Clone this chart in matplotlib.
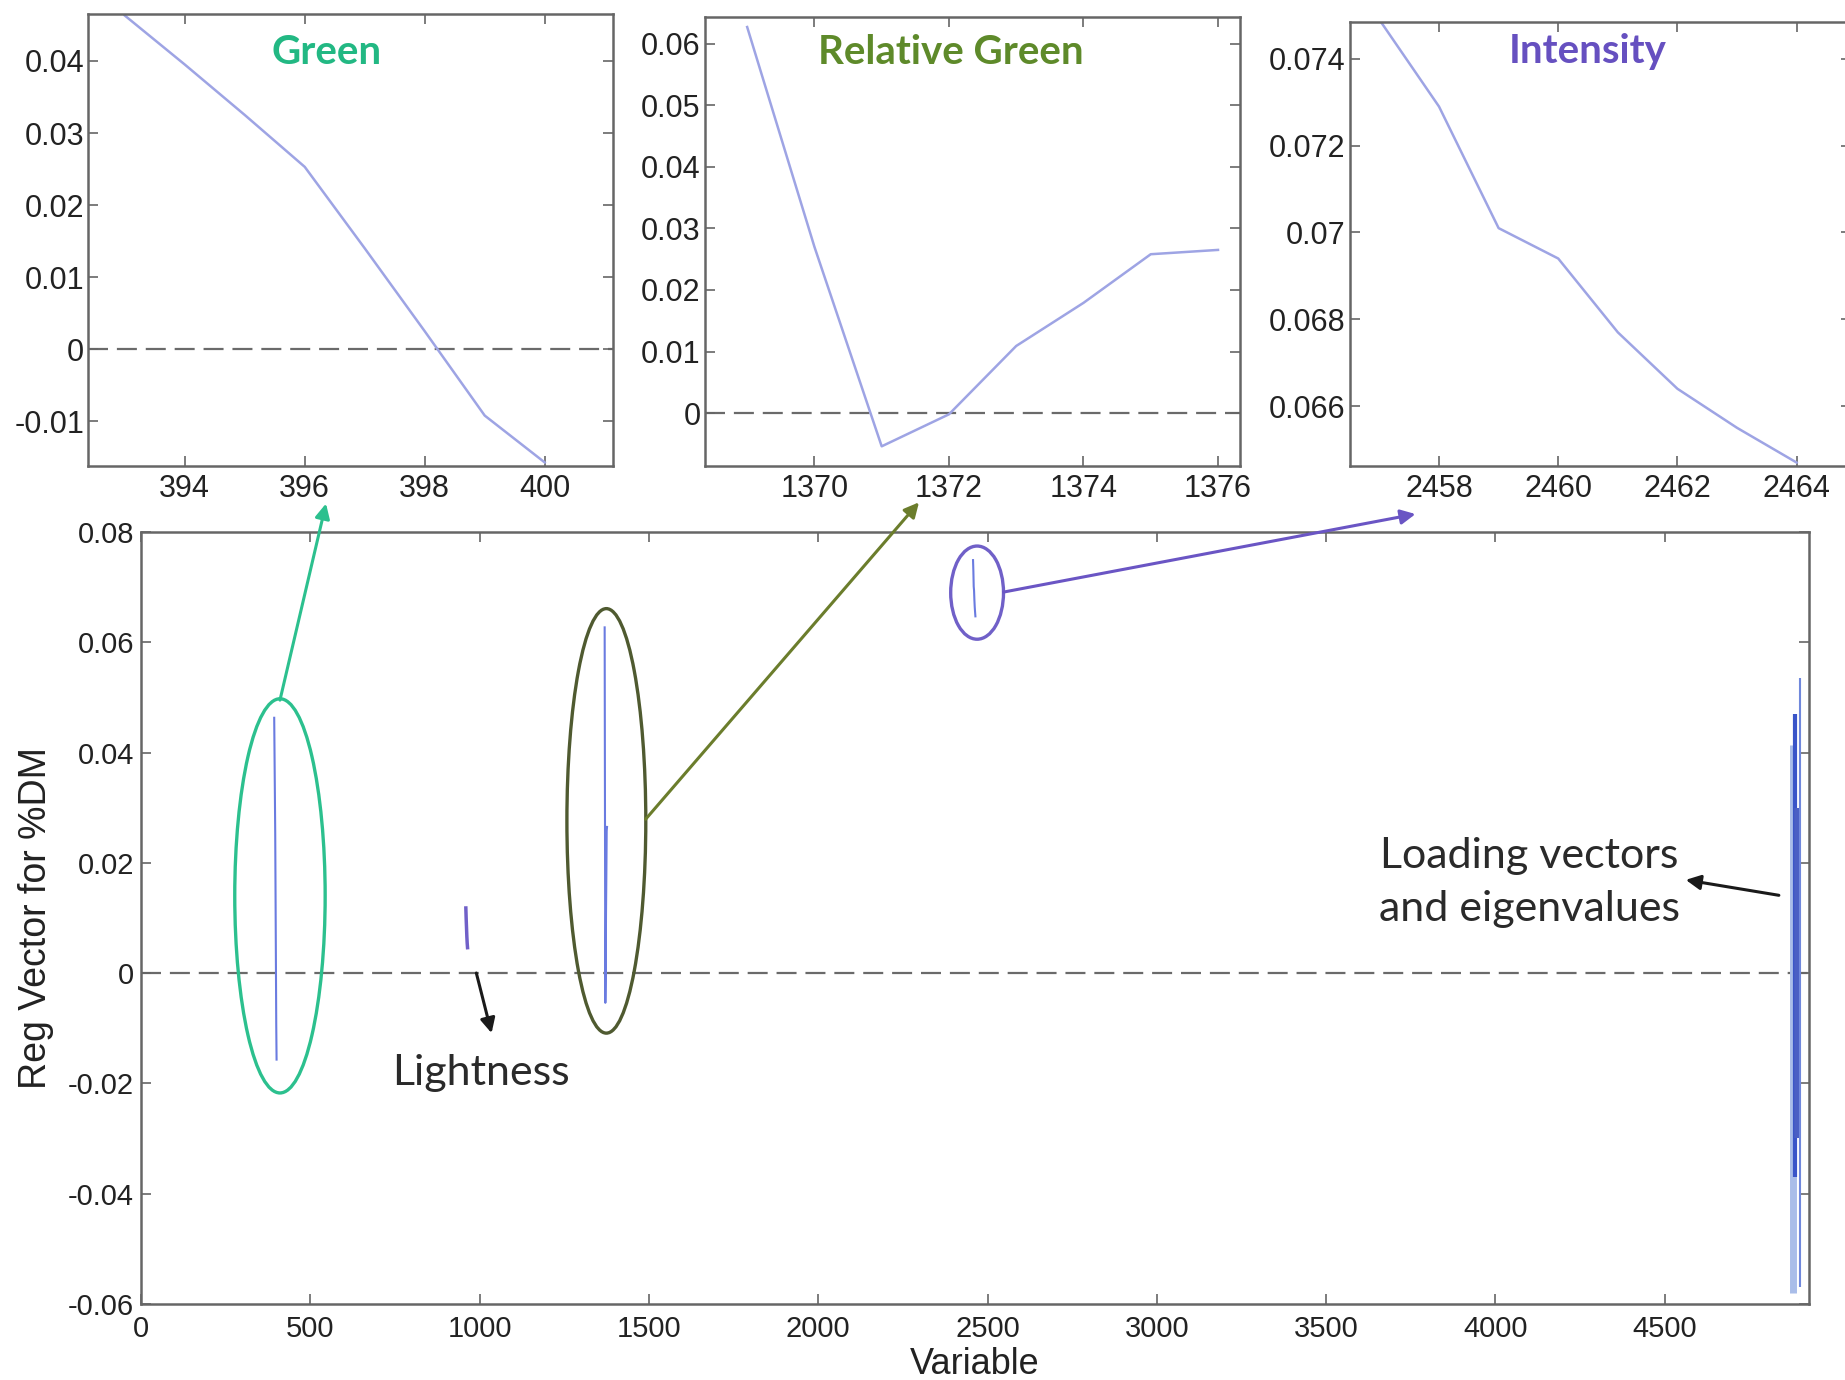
import matplotlib
matplotlib.use("Agg")
import matplotlib.pyplot as plt
from matplotlib.patches import Ellipse
from matplotlib.ticker import FormatStrFormatter, FuncFormatter

# regression vector segments picked out for each colour feature
green_x = [393, 394, 395, 396, 397, 398, 399, 400]
green_y = [0.0463, 0.0395, 0.0325, 0.0253, 0.0140, 0.0025, -0.0092, -0.0157]

relgreen_x = [1369, 1370, 1371, 1372, 1373, 1374, 1375, 1376]
relgreen_y = [0.0627, 0.0270, -0.0054, -0.0002, 0.0109, 0.0179, 0.0258, 0.0265]

intensity_x = [2457, 2458, 2459, 2460, 2461, 2462, 2463, 2464]
intensity_y = [0.0749, 0.0729, 0.0701, 0.0694, 0.0677, 0.0664, 0.0655, 0.0647]

lightness_x = [959, 960, 961, 962, 963, 964]
lightness_y = [0.0118, 0.0098, 0.0082, 0.0066, 0.0054, 0.0046]

# loading vectors / eigenvalues at the end of the variable list
loading_x = [4880, 4886, 4891, 4899]
loading_top = [0.0414, 0.0470, 0.0300, 0.0535]
loading_bottom = [-0.0580, -0.0370, -0.0300, -0.0570]
loading_colors = ['#a9bde9', '#3a55c8', '#4a5fc4', '#7088dc']
loading_widths = [5, 3, 4, 1.5]

main_xticks = [0, 500, 1000, 1500, 2000, 2500, 3000, 3500, 4000, 4500]
main_yticks = [-0.06, -0.04, -0.02, 0, 0.02, 0.04, 0.06, 0.08]

GREEN = '#22b883'
OLIVE = '#5e8a2a'
OLIVE_DARK = '#4f5a30'
PURPLE = '#6650c0'
LINE = '#9ea4e4'
SPINE = '#666666'

plt.rcParams['font.family'] = ['Liberation Sans', 'DejaVu Sans']
note_font = ['Lato', 'DejaVu Sans']


def g_fmt(v, pos):
    if abs(v) < 1e-12:
        return '0'
    return '%g' % v


def style_axes(ax, size=20, pad=4):
    for s in ax.spines.values():
        s.set_color(SPINE)
        s.set_linewidth(1.8)
    ax.tick_params(direction='in', top=True, right=True, length=7,
                   width=1.2, color=SPINE, labelsize=size, pad=pad,
                   labelcolor='#222222')
    ax.yaxis.set_major_formatter(FuncFormatter(g_fmt))


def zero_line(ax, x0, x1):
    ax.plot([x0, x1], [0, 0], color='#6a6a6a', lw=1.6,
            dashes=(9, 4), zorder=1)


fig = plt.figure(figsize=(18.45, 13.8), dpi=100)

# ---- main plot ----
ax = fig.add_axes([0.0765, 0.0552, 0.9038, 0.5593])
zero_line(ax, 0, 4925)
ax.plot(green_x, green_y, color='#6a7be0', lw=1.5)
ax.plot(relgreen_x, relgreen_y, color='#6a7be0', lw=1.5)
ax.plot(intensity_x, intensity_y, color='#6a7be0', lw=1.5)
ax.plot(lightness_x, lightness_y, color='#7060c8', lw=2.5)
for x, lo, hi, c, w in zip(loading_x, loading_bottom, loading_top,
                           loading_colors, loading_widths):
    ax.vlines(x, lo, hi, color=c, lw=w)

ax.set_xlim(0, 4925)
ax.set_ylim(-0.06, 0.08)
ax.set_xticks(main_xticks)
ax.set_yticks(main_yticks)
style_axes(ax, 21, pad=5)
ax.tick_params(axis='x', pad=8)
ax.xaxis.set_major_formatter(FormatStrFormatter('%d'))
ax.set_xlabel('Variable', fontsize=26, labelpad=3, color='#222222')
ax.set_ylabel('Reg Vector for %DM', fontsize=27, labelpad=10,
              color='#222222')

ax.add_patch(Ellipse((410, 0.0140), 267, 0.0715, fill=False,
                     ec='#2cc08e', lw=2.4))
ax.add_patch(Ellipse((1374, 0.0276), 233, 0.0770, fill=False,
                     ec=OLIVE_DARK, lw=2.4))
ax.add_patch(Ellipse((2469, 0.0690), 156, 0.0169, fill=False,
                     ec='#7060c8', lw=2.4))

arrow = dict(arrowstyle='-|>', mutation_scale=22, lw=2.2,
             shrinkA=0, shrinkB=0)
ax.annotate('', xy=(0.1767, 0.6351), xycoords='figure fraction',
            xytext=(410, 0.0495), textcoords='data',
            arrowprops=dict(arrow, color='#2cc08e'), annotation_clip=False)
ax.annotate('', xy=(0.4981, 0.6360), xycoords='figure fraction',
            xytext=(1490, 0.0279), textcoords='data',
            arrowprops=dict(arrow, color='#6b7d2c'), annotation_clip=False)
ax.annotate('', xy=(0.7672, 0.6275), xycoords='figure fraction',
            xytext=(2547, 0.0691), textcoords='data',
            arrowprops=dict(arrow, color='#6a55c4'), annotation_clip=False)
ax.annotate('', xy=(1035, -0.0109), xytext=(990, 0.0),
            arrowprops=dict(arrow, color='#1a1a1a'))
ax.annotate('', xy=(4562, 0.0169), xytext=(4837, 0.0141),
            arrowprops=dict(arrow, color='#1a1a1a'))

ax.text(1004, -0.0181, 'Lightness', fontsize=31, family=note_font,
        ha='center', va='center', color='#2a2a2a')
ax.text(4100, 0.0164, 'Loading vectors\nand eigenvalues', fontsize=31,
        family=note_font, ha='center', va='center', color='#2a2a2a',
        linespacing=1.5)

# ---- zoomed insets ----
ins1 = fig.add_axes([0.0478, 0.6623, 0.2845, 0.3275])
zero_line(ins1, 392.39, 401.14)
ins1.plot(green_x, green_y, color=LINE, lw=1.8)
ins1.set_xlim(392.39, 401.14)
ins1.set_ylim(-0.0162, 0.0465)
ins1.set_xticks([394, 396, 398, 400])
ins1.set_yticks([-0.01, 0, 0.01, 0.02, 0.03, 0.04])
style_axes(ins1, 22, pad=3)
ins1.tick_params(axis='x', pad=6)
ins1.text(0.455, 0.915, 'Green', transform=ins1.transAxes, fontsize=29,
          family=note_font, weight='bold', color=GREEN,
          ha='center', va='center')

ins2 = fig.add_axes([0.3820, 0.6623, 0.2902, 0.3257])
zero_line(ins2, 1368.37, 1376.33)
ins2.plot(relgreen_x, relgreen_y, color=LINE, lw=1.8)
ins2.set_xlim(1368.37, 1376.33)
ins2.set_ylim(-0.0086, 0.0644)
ins2.set_xticks([1370, 1372, 1374, 1376])
ins2.set_yticks([0, 0.01, 0.02, 0.03, 0.04, 0.05, 0.06])
style_axes(ins2, 22, pad=3)
ins2.tick_params(axis='x', pad=6)
ins2.text(0.46, 0.92, 'Relative Green', transform=ins2.transAxes,
          fontsize=29, family=note_font, weight='bold', color=OLIVE,
          ha='center', va='center')

ins3 = fig.add_axes([0.7315, 0.6623, 0.2720, 0.3215])
ins3.plot(intensity_x, intensity_y, color=LINE, lw=1.8)
ins3.set_xlim(2456.5, 2464.92)
ins3.set_ylim(0.06462, 0.07484)
ins3.set_xticks([2458, 2460, 2462, 2464])
ins3.set_yticks([0.066, 0.068, 0.07, 0.072, 0.074])
style_axes(ins3, 22, pad=3)
ins3.tick_params(axis='x', pad=6)
ins3.text(0.475, 0.935, 'Intensity', transform=ins3.transAxes,
          fontsize=29, family=note_font, weight='bold', color=PURPLE,
          ha='center', va='center')

fig.savefig('out.png', dpi=100, facecolor='white')
